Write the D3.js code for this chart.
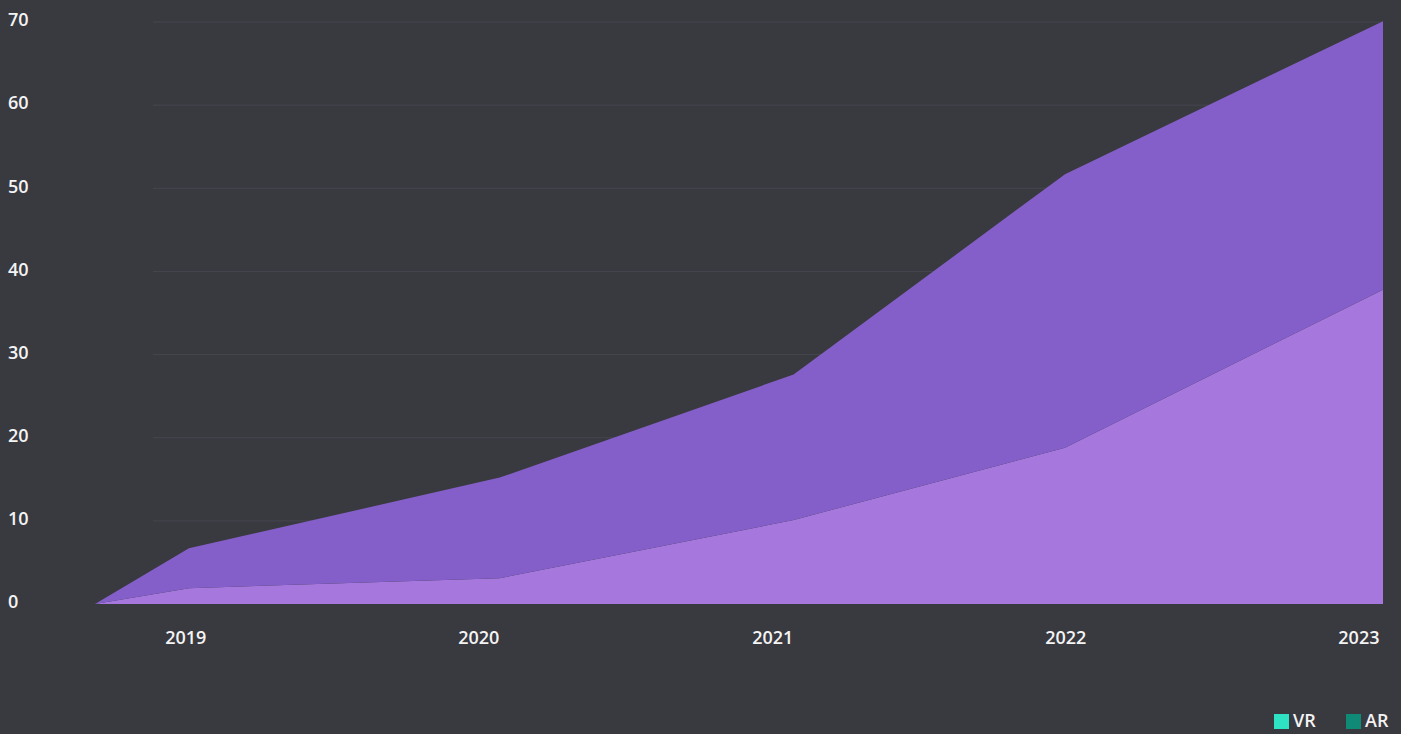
<!DOCTYPE html>
<html><head><meta charset="utf-8">
<script src="https://cdn.jsdelivr.net/npm/d3@7"></script>
<style>
html,body{margin:0;padding:0;background:#393940;}
svg{display:block;}
text{font-family:"Open Sans",sans-serif;font-weight:600;fill:#f4f4f4;}
</style></head><body>
<svg id="chart" width="1401" height="734"></svg>
<script>
const dates = ["2018-09-15","2019-01-10","2020-02-01","2021-02-01","2022-01-05","2023-02-05"];
const vrValues = [0, 1.9, 3.1, 10.1, 18.8, 37.8];
const arValues = [0, 4.8, 12.1, 17.5, 32.9, 32.3];
const yTicks = [0,10,20,30,40,50,60,70];
const xTickYears = [2019,2020,2021,2022,2023];
const seriesNames = ["VR","AR"];
const legendColors = ["#2de3c3","#0f8a76"];
const areaColors = ["#a678de","#855fc9"];

const svg = d3.select("#chart");
const parse = d3.timeParse("%Y-%m-%d");
const data = dates.map((d,i)=>({date:parse(d), VR:vrValues[i], AR:arValues[i]}));

const x = d3.scaleTime()
  .domain([parse("2018-09-15"), parse("2023-02-05")])
  .range([95, 1383]);
const y = d3.scaleLinear().domain([0,70]).range([604,22]);

// gridlines
svg.append("g").selectAll("line").data(yTicks.filter(t=>t>0)).join("line")
  .attr("x1",153).attr("x2",1383)
  .attr("y1",d=>y(d)).attr("y2",d=>y(d))
  .attr("stroke","#46464e").attr("stroke-width",1);

const stack = d3.stack().keys(seriesNames);
const layers = stack(data);
const area = d3.area()
  .x(d=>x(d.data.date)).y0(d=>y(d[0])).y1(d=>y(d[1]));

svg.append("g").selectAll("path").data(layers).join("path")
  .attr("d",area).attr("fill",(d,i)=>areaColors[i]);

// y labels
svg.append("g").selectAll("text").data(yTicks).join("text")
  .attr("x",8).attr("y",d=>y(d)-2).attr("dy","0.35em")
  .attr("font-size",18).text(d=>d);

// x labels
svg.append("g").selectAll("text").data(xTickYears).join("text")
  .attr("x",d=>{const px=x(new Date(d,0,6)); return Math.min(px,1359);})
  .attr("y",638).attr("dy","0.35em").attr("text-anchor","middle")
  .attr("font-size",18).text(d=>d);

// legend
const lg = svg.append("g");
const legX = [1274,1346];
seriesNames.forEach((n,i)=>{
  lg.append("rect").attr("x",legX[i]).attr("y",714).attr("width",15).attr("height",15).attr("fill",legendColors[i]);
  lg.append("text").attr("x",legX[i]+19).attr("y",721).attr("dy","0.35em").attr("font-size",18).text(n);
});
</script>
</body></html>
